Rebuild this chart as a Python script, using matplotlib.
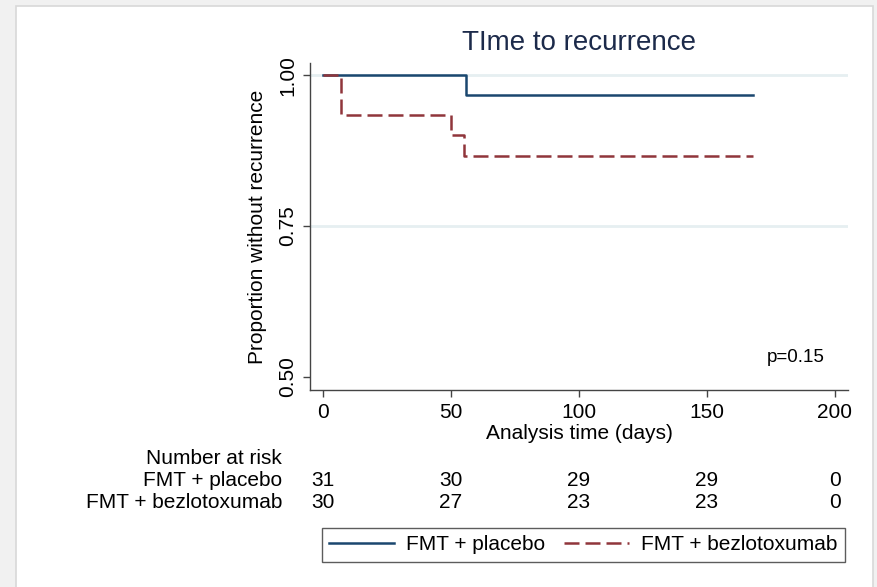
import matplotlib.pyplot as plt
from matplotlib.patches import Rectangle
from matplotlib.lines import Line2D

plt.rcParams['font.family'] = ['Liberation Sans', 'DejaVu Sans']

# Kaplan-Meier estimates (step functions)
placebo_t = [0, 56, 168]
placebo_s = [1.0, 30 / 31, 30 / 31]
bezlo_t = [0, 7, 50, 55, 168]
bezlo_s = [1.0, 28 / 30, 27 / 30, 26 / 30, 26 / 30]

# number-at-risk table
risk_times = [0, 50, 100, 150, 200]
risk_placebo = [31, 30, 29, 29, 0]
risk_bezlo = [30, 27, 23, 23, 0]

group_names = ['FMT + placebo', 'FMT + bezlotoxumab']
col_placebo = '#1a476f'
col_bezlo = '#90353b'

W, H = 877, 587
fig = plt.figure(figsize=(W / 100, H / 100), dpi=100, facecolor='#f1f1f1')

# white plot region with thin border
fig.patches.append(Rectangle((16 / W, -0.01), (873 - 16) / W, (H - 6) / H + 0.01,
                             transform=fig.transFigure, facecolor='white',
                             edgecolor='#d8d8d8', lw=1.2, zorder=-5))

ax = fig.add_axes([310 / W, (H - 390) / H, 538 / W, 327 / H])
ax.set_facecolor('none')

ax.axhline(1.0, color='#e6eff1', lw=2, zorder=1)
ax.axhline(0.75, color='#e6eff1', lw=2, zorder=1)

ax.step(placebo_t, placebo_s, where='post', color=col_placebo, lw=1.8, zorder=3)
ax.step(bezlo_t, bezlo_s, where='post', color=col_bezlo, lw=1.8,
        linestyle=(0, (6, 2.4)), zorder=4)

ax.set_xlim(-5.1, 205.1)
ax.set_ylim(0.478, 1.02)
ax.set_xticks(risk_times)
ax.set_yticks([0.5, 0.75, 1.0])
ax.set_yticklabels(['0.50', '0.75', '1.00'], rotation=90, va='center')
for s in ['top', 'right']:
    ax.spines[s].set_visible(False)
for s in ['left', 'bottom']:
    ax.spines[s].set_color('#444444')
    ax.spines[s].set_linewidth(1)
ax.tick_params(direction='out', length=5, width=1, color='#444444',
               labelsize=15, pad=4)

ax.set_xlabel('Analysis time (days)', fontsize=15, labelpad=2)
ax.set_ylabel('Proportion without recurrence', fontsize=15, labelpad=8)
ax.set_title('TIme to recurrence', fontsize=20, color='#1c2a4a', pad=9)
ax.text(196, 0.532, 'p=0.15', fontsize=13.5, ha='right', va='center')

# number at risk below the axis
fig.text(282 / W, 1 - 458 / H, 'Number at risk', ha='right', va='center', fontsize=15)
for row_y, name, counts in [(480, group_names[0], risk_placebo),
                            (502, group_names[1], risk_bezlo)]:
    fig.text(282 / W, 1 - row_y / H, name, ha='right', va='center', fontsize=15)
    for t, n in zip(risk_times, counts):
        xf = fig.transFigure.inverted().transform(ax.transData.transform((t, 0)))[0]
        fig.text(xf, 1 - row_y / H, str(n), ha='center', va='center', fontsize=15)

handles = [Line2D([], [], color=col_placebo, lw=1.8),
           Line2D([], [], color=col_bezlo, lw=1.8, linestyle=(0, (6, 2.4)))]
fig.legend(handles, group_names, loc='center', ncol=2, mode='expand',
           bbox_to_anchor=(322 / W, (H - 565) / H, 523 / W, 40 / H),
           fontsize=15, frameon=True, fancybox=False, edgecolor='#333333',
           handlelength=3.1, handletextpad=0.6, borderpad=0.35, borderaxespad=0)

fig.savefig('out.png', dpi=100, facecolor=fig.get_facecolor())
